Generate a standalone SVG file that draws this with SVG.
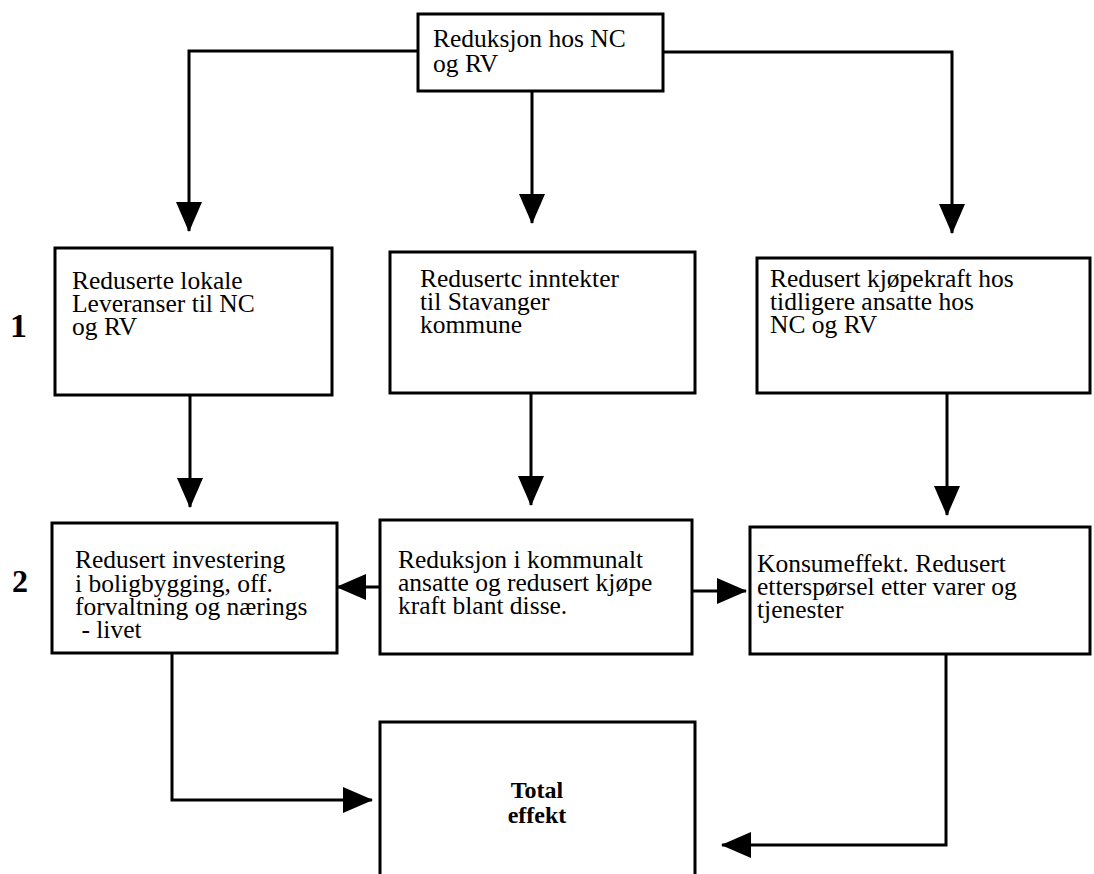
<svg xmlns="http://www.w3.org/2000/svg" width="1094" height="874" viewBox="0 0 1094 874">
<style>
.box{fill:#fff;stroke:#000;stroke-width:3}
.c{fill:none;stroke:#000;stroke-width:3}
</style>
<defs>
<marker id="ah" viewBox="0 0 30 26" refX="29" refY="13" markerWidth="30" markerHeight="26" orient="auto" markerUnits="userSpaceOnUse">
<path d="M0,0 L30,13 L0,26 Z" fill="#000"/>
</marker>
</defs>
<rect width="1094" height="874" fill="#fff"/>
<g id="connectors">
<path class="c" d="M418,51 H189 V231" marker-end="url(#ah)"/>
<path class="c" d="M532,92 V223" marker-end="url(#ah)"/>
<path class="c" d="M663,52 H952 V233" marker-end="url(#ah)"/>
<path class="c" d="M190,396 V507" marker-end="url(#ah)"/>
<path class="c" d="M531,394 V505" marker-end="url(#ah)"/>
<path class="c" d="M947,394 V515" marker-end="url(#ah)"/>
<path class="c" d="M380,587 H337" marker-end="url(#ah)"/>
<path class="c" d="M692,591 H746" marker-end="url(#ah)"/>
<path class="c" d="M172,654 V800 H372" marker-end="url(#ah)"/>
<path class="c" d="M946,655 V845 H722" marker-end="url(#ah)"/>
</g>
<g font-family="Liberation Serif, Times New Roman, serif" font-size="25.5" fill="#000">
<g id="n-top">
<rect class="box" x="418" y="14" width="245" height="77"/>
<text x="433" y="47">Reduksjon hos NC</text>
<text x="433" y="72">og RV</text>
</g>
<text x="10" y="337" font-size="34" font-weight="bold">1</text>
<text x="12" y="592" font-size="32" font-weight="bold">2</text>
<g id="n-r1-left">
<rect class="box" x="55" y="248" width="277" height="147"/>
<text x="72" y="289">Reduserte lokale</text>
<text x="72" y="312">Leveranser til NC</text>
<text x="72" y="335">og RV</text>
</g>
<g id="n-r1-mid">
<rect class="box" x="390" y="252" width="305" height="141"/>
<text x="420" y="287">Redusertc inntekter</text>
<text x="420" y="310">til Stavanger</text>
<text x="420" y="333">kommune</text>
</g>
<g id="n-r1-right">
<rect class="box" x="757" y="258" width="333" height="135"/>
<text x="770" y="287">Redusert kjøpekraft hos</text>
<text x="770" y="310">tidligere ansatte hos</text>
<text x="770" y="333">NC og RV</text>
</g>
<g id="n-r2-left">
<rect class="box" x="52" y="523" width="285" height="130"/>
<text x="75" y="568">Redusert investering</text>
<text x="75" y="592">i boligbygging, off.</text>
<text x="75" y="615">forvaltning og nærings</text>
<text x="75" y="638" xml:space="preserve"> - livet</text>
</g>
<g id="n-r2-mid">
<rect class="box" x="380" y="520" width="312" height="134"/>
<text x="398" y="568">Reduksjon i kommunalt</text>
<text x="398" y="591">ansatte og redusert kjøpe</text>
<text x="398" y="614">kraft blant disse.</text>
</g>
<g id="n-r2-right">
<rect class="box" x="750" y="527" width="340" height="127"/>
<text x="757" y="572">Konsumeffekt. Redusert</text>
<text x="757" y="595">etterspørsel etter varer og</text>
<text x="757" y="618">tjenester</text>
</g>
<g id="n-total">
<path class="box" d="M380,880 V722 H695 V880"/>
<text x="537" y="798" font-size="24" font-weight="bold" text-anchor="middle">Total</text>
<text x="537" y="823" font-size="24" font-weight="bold" text-anchor="middle">effekt</text>
</g>
</g>
</svg>
